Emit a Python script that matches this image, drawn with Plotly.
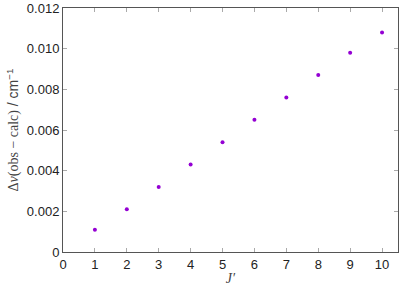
import plotly.graph_objects as go

J = [1, 2, 3, 4, 5, 6, 7, 8, 9, 10]
delta_nu = [0.0011, 0.0021, 0.0032, 0.0043, 0.0054, 0.0065, 0.0076, 0.0087, 0.0098, 0.0108]
x_ticks = list(range(0, 11))
y_ticks = [0, 0.002, 0.004, 0.006, 0.008, 0.010, 0.012]
y_tick_text = ["0", "0.002", "0.004", "0.006", "0.008", "0.010", "0.012"]

fig = go.Figure(go.Scatter(
    x=J, y=delta_nu, mode="markers",
    marker=dict(color="#9400D3", size=4, symbol="circle"),
    cliponaxis=False,
))

axis_common = dict(
    showgrid=False, zeroline=False, showline=True, linecolor="#555555", linewidth=1,
    mirror="ticks", ticks="inside", ticklen=4, tickcolor="#aaaaaa",
    automargin=False,
    tickfont=dict(family="Liberation Sans", size=13, color="#222222"),
)

fig.update_layout(
    width=399, height=286,
    margin=dict(l=63, r=1, t=8, b=34),
    plot_bgcolor="white", paper_bgcolor="white",
    showlegend=False,
    xaxis=dict(range=[0, 10.5], tickvals=x_ticks,
               title=dict(text="<i>J′</i>", font=dict(family="Liberation Serif", size=14, color="#444444"), standoff=5),
               **axis_common),
    yaxis=dict(range=[0, 0.012], tickvals=y_ticks, ticktext=y_tick_text,
               title=dict(text="<span style='font-family:Liberation Serif'>Δ<i>ν</i>(obs − calc)</span> / cm<sup>−1</sup>",
                          font=dict(family="Liberation Sans", size=14, color="#444444"), standoff=4),
               **axis_common),
)

fig.write_html("out.html", config={"displayModeBar": False},
               post_script="document.body.style.margin='0';")
